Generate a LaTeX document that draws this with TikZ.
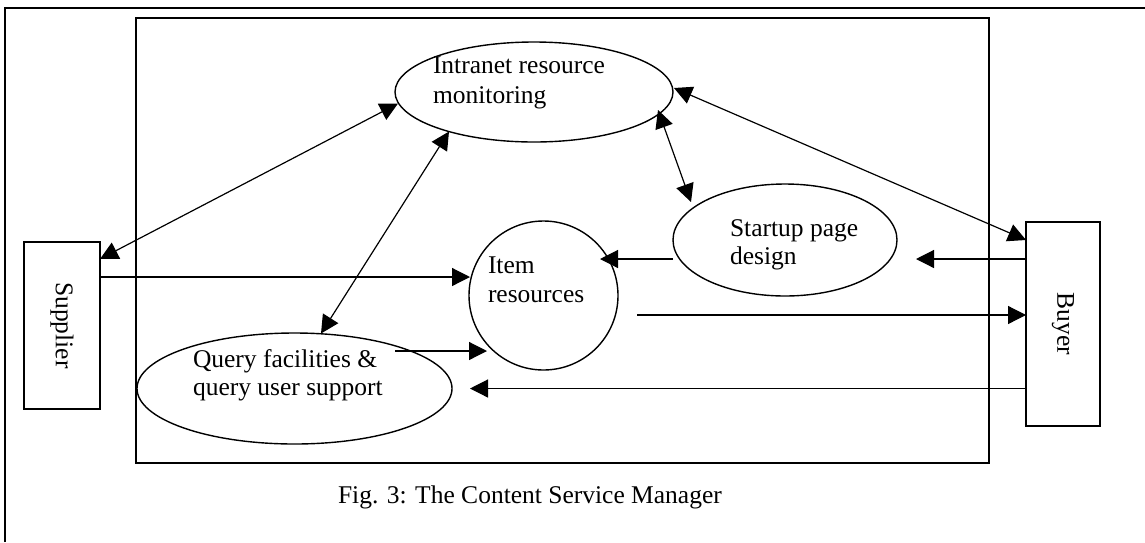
\documentclass[tikz,border=0pt]{standalone}
\usepackage{fontspec}
\setmainfont{Liberation Serif}
\usetikzlibrary{arrows.meta,shapes.geometric,calc}
\begin{document}
\begin{tikzpicture}[x=1pt,y=-1pt,
  txt/.style={font=\fontsize{25.5}{29}\selectfont},
  lbl/.style={txt,anchor=base west,inner sep=0pt,outer sep=0pt},
  proc/.style={draw,ellipse,line width=1.4pt,inner sep=0pt,outer sep=0pt},
  ent/.style={draw,rectangle,txt,rotate=-90,line width=1.4pt,inner sep=0pt,outer sep=0pt},
  arr/.style={line width=1.2pt,-{Triangle[length=18pt,width=18pt]}},
  darr/.style={line width=1.2pt,{Triangle[length=18pt,width=18pt]}-{Triangle[length=18pt,width=18pt]}}
]
\useasboundingbox (0,0) rectangle (1145,542);
% outer frame (left and top edges)
\coordinate (fbl) at (5,542);
\coordinate (ftl) at (5,8);
\coordinate (ftr) at (1146,8);
\draw[line width=1.6pt] (fbl) -- (ftl) -- (ftr);
% system boundary
\node[draw,line width=1.8pt,inner sep=0pt,outer sep=0pt,minimum width=853pt,minimum height=445pt] (sys) at (562.5,240.5) {};
% external entities
\node[ent,minimum width=167pt,minimum height=76pt] (sup) at (62,325.5) {Supplier};
\node[ent,minimum width=204pt,minimum height=74pt] (buy) at (1063,324) {Buyer};
% processes
\node[proc,minimum width=278pt,minimum height=100pt] (intra) at (534,92) {};
\node[proc,minimum width=224pt,minimum height=112pt] (start) at (785,240) {};
\node[proc,minimum width=315pt,minimum height=111pt] (query) at (294.5,388.5) {};
\node[proc,circle,minimum size=149pt] (item) at (543.5,295.5) {};
% texts
\node[lbl] (intraA) at (433,73) {Intranet resource};
\node[lbl] (intraB) at (433,103) {monitoring};
\node[lbl] (startA) at (730,236) {Startup page};
\node[lbl] (startB) at (730,264) {design};
\node[lbl] (itemA) at (488,273) {Item};
\node[lbl] (itemB) at (488,302) {resources};
\node[lbl] (queryA) at (193,367) {Query facilities \&};
\node[lbl] (queryB) at (193,395) {query user support};
\node[lbl] (cap) at (338,503) {Fig. 3: The Content Service Manager};
% two-way connectors
\draw[darr] ($(sup)+(38,-66.5)$) -- ($(intra)+(-136,11.5)$);
\draw[darr] ($(query)+(26.5,-55)$) -- ($(intra)+(-85,39.5)$);
\draw[darr] ($(start)+(-94,-38)$) -- ($(intra)+(124,18)$);
\draw[darr] ($(buy)+(-37,-84)$) -- ($(intra)+(140,-4)$);
% one-way connectors
\draw[arr] ($(sup)+(38,-48.5)$) -- ($(item)+(-73.5,-18.5)$);
\draw[arr] ($(start)+(-112,19)$) -- ($(item)+(56.5,-36.5)$);
\draw[arr] ($(buy)+(-37,-65)$) -- ($(start)+(131,19)$);
\draw[arr] ($(item)+(93.5,19.5)$) -- ($(buy)+(-37,-9)$);
\draw[arr] ($(query)+(100.5,-37.5)$) -- ($(item)+(-56.5,55.5)$);
\draw[arr] ($(buy)+(-37,64.5)$) -- ($(query)+(175.5,0)$);
\end{tikzpicture}
\end{document}
